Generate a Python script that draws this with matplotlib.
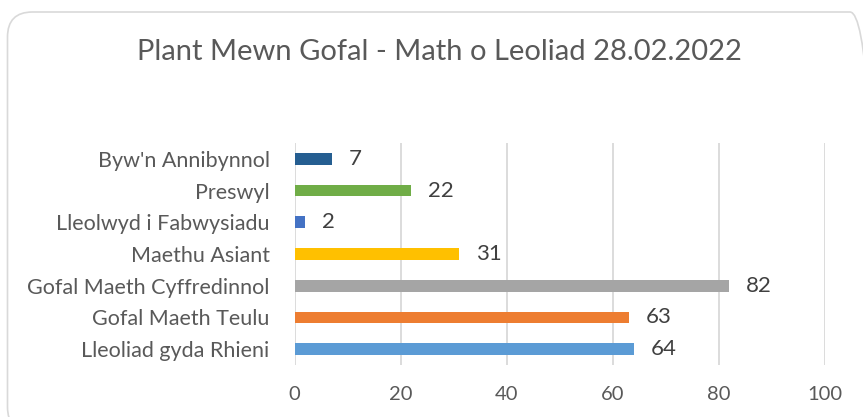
import matplotlib
matplotlib.use("Agg")
import matplotlib.pyplot as plt
from matplotlib.patches import FancyBboxPatch

categories = ["Lleoliad gyda Rhieni", "Gofal Maeth Teulu", "Gofal Maeth Cyffredinnol",
              "Maethu Asiant", "Lleolwyd i Fabwysiadu", "Preswyl", "Byw'n Annibynnol"]
values = [64, 63, 82, 31, 2, 22, 7]
colors = ["#5B9BD5", "#ED7D31", "#A5A5A5", "#FFC000", "#4472C4", "#70AD47", "#255E91"]
xticks = [0, 20, 40, 60, 80, 100]
title = "Plant Mewn Gofal - Math o Leoliad 28.02.2022"

plt.rcParams['font.family'] = ['Lato', 'DejaVu Sans']

W, H = 863, 417
fig = plt.figure(figsize=(W / 100, H / 100), dpi=100)

# rounded border (pixel coordinates)
border = FancyBboxPatch((7.5, H - 432), 875 - 7.5, 432 - 12,
                        boxstyle="round,pad=0,rounding_size=25",
                        transform=None, fill=False,
                        edgecolor="#D9D9D9", linewidth=1.2)
fig.patches.append(border)

ax = fig.add_axes([294.7 / W, 1 - 365 / H, 530 / W, 222 / H])
y = list(range(len(categories)))
ax.barh(y, values, height=0.37, color=colors, zorder=3)
for yi, v in zip(y, values):
    ax.annotate(str(v), (v, yi), xytext=(12, 0), textcoords="offset points",
                ha="left", va="center", fontsize=16, color="#404040")

ax.set_xlim(0, 100)
ax.set_ylim(-0.5, len(categories) - 0.5)
ax.set_xticks(xticks)
ax.set_xticklabels([str(t) for t in xticks])
ax.set_yticks(y)
ax.set_yticklabels(categories)
ax.tick_params(axis="y", length=0, labelsize=15.5, colors="#595959", pad=18)
ax.tick_params(axis="x", length=0, labelsize=14.5, colors="#595959", pad=15)
ax.grid(axis="x", color="#D9D9D9", linewidth=1.3, zorder=0)
for s in ax.spines.values():
    s.set_visible(False)

fig.text(0.5 * (137 + 742) / W, 1 - 52 / H, title, ha="center", va="center",
         fontsize=21, color="#595959")

fig.savefig("out.png", dpi=100)
